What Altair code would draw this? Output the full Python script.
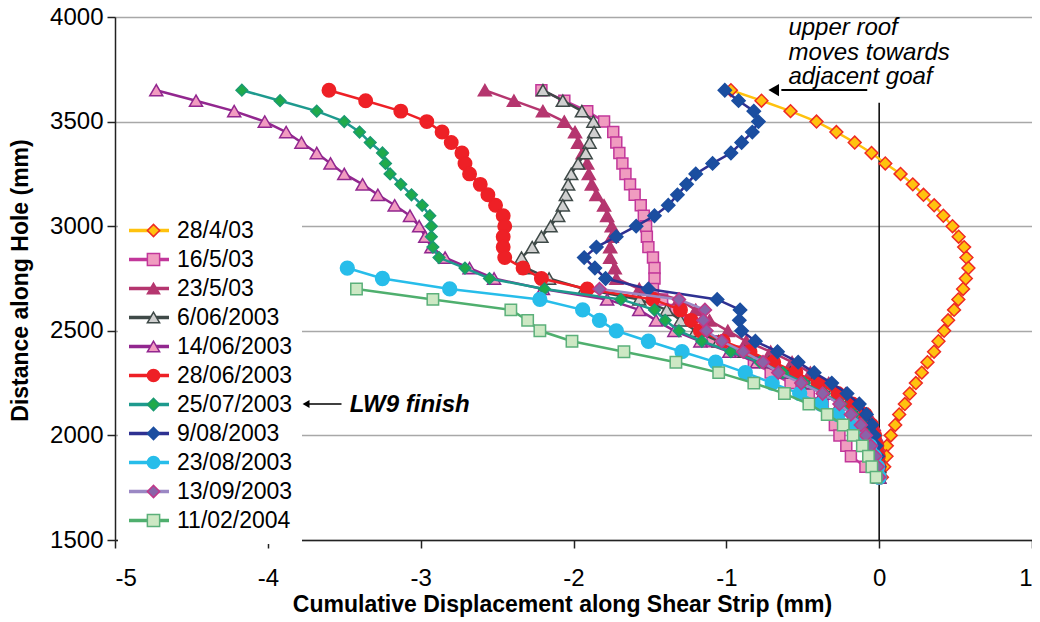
import altair as alt
import pandas as pd

FONT = "Liberation Sans"

DEPTHS = [3650, 3600, 3550, 3500, 3450, 3400, 3350, 3300, 3250, 3200,
          3150, 3100, 3050, 3000, 2950, 2900, 2850, 2800, 2750, 2700,
          2650, 2600, 2550, 2500, 2450, 2400, 2350, 2300, 2250, 2200,
          2150, 2100, 2050, 2000, 1950, 1900, 1850, 1800]

NAMES = ["28/4/03", "16/5/03", "23/5/03", "6/06/2003", "14/06/2003", "28/06/2003",
         "25/07/2003", "9/08/2003", "23/08/2003", "13/09/2003", "11/02/2004"]
# same labels with a trailing space: keeps the line legend apart from the marker legend
NAMES_L = [n + " " for n in NAMES]

X_28_4_03 = [-0.97, -0.77, -0.58, -0.41, -0.28, -0.16, -0.05, 0.04, 0.14, 0.22,
             0.29, 0.36, 0.42, 0.48, 0.52, 0.556, 0.571, 0.584, 0.567, 0.549,
             0.518, 0.49, 0.451, 0.425, 0.388, 0.359, 0.316, 0.279, 0.24, 0.20,
             0.168, 0.131, 0.105, 0.076, 0.05, 0.048, 0.033, 0.018]
X_16_5_03 = [-2.21, -2.06, -1.91, -1.80, -1.74, -1.72, -1.70, -1.68, -1.66, -1.63,
             -1.60, -1.56, -1.54, -1.525, -1.52, -1.51, -1.48, -1.47, -1.47, -1.48,
             -1.42, -1.33, -1.24, -1.16, -1.09, -0.95, -0.82, -0.71, -0.58, -0.46,
             -0.37, -0.32, -0.29, -0.26, -0.215, -0.185, -0.09, 0.0]
X_23_5_03 = [-2.58, -2.39, -2.20, -2.06, -1.99, -1.97, -1.94, -1.91, -1.90, -1.88,
             -1.85, -1.80, -1.78, -1.75, -1.75, -1.76, -1.76, -1.73, -1.72, -1.57,
             -1.31, -1.20, -1.11, -0.99, -0.87, -0.71, -0.57, -0.45, -0.33, -0.22,
             -0.13, -0.07, -0.035, -0.02, -0.01, -0.005, 0.0, 0.0]
X_06_06_2003 = [-2.20, -2.07, -1.945, -1.87, -1.865, -1.895, -1.92, -1.97, -2.015, -2.035,
                -2.05, -2.07, -2.10, -2.15, -2.21, -2.27, -2.34, -2.31, -2.16, -1.93,
                -1.57, -1.39, -1.30, -1.20, -1.05, -0.88, -0.72, -0.58, -0.44, -0.31,
                -0.21, -0.13, -0.08, -0.05, -0.03, -0.01, 0.0, 0.0]
X_14_06_2003 = [-4.73, -4.47, -4.22, -4.02, -3.88, -3.78, -3.68, -3.59, -3.50, -3.38,
                -3.28, -3.17, -3.07, -3.01, -2.97, -2.93, -2.84, -2.68, -2.52, -2.20,
                -1.78, -1.57, -1.46, -1.34, -1.17, -0.98, -0.80, -0.65, -0.50, -0.37,
                -0.26, -0.17, -0.11, -0.07, -0.04, -0.02, -0.01, 0.0]
X_28_06_2003 = [-3.60, -3.36, -3.13, -2.96, -2.86, -2.80, -2.73, -2.71, -2.68, -2.61,
                -2.56, -2.51, -2.46, -2.45, -2.46, -2.46, -2.45, -2.33, -2.21, -1.91,
                -1.48, -1.30, -1.23, -1.17, -1.02, -0.845, -0.69, -0.545, -0.40, -0.27,
                -0.175, -0.09, -0.05, -0.03, -0.015, -0.005, 0.0, 0.0]
X_25_07_2003 = [-4.17, -3.92, -3.68, -3.50, -3.40, -3.33, -3.25, -3.23, -3.20, -3.13,
                -3.06, -2.99, -2.94, -2.93, -2.93, -2.92, -2.88, -2.71, -2.55, -2.19,
                -1.69, -1.47, -1.40, -1.31, -1.16, -0.97, -0.78, -0.63, -0.49, -0.36,
                -0.25, -0.17, -0.11, -0.07, -0.04, -0.02, -0.01, 0.0]
X_09_08_2003 = [-1.01, -0.92, -0.82, -0.79, -0.83, -0.90, -0.97, -1.09, -1.20, -1.26,
                -1.32, -1.38, -1.47, -1.59, -1.72, -1.85, -1.93, -1.86, -1.79, -1.51,
                -1.06, -0.91, -0.915, -0.90, -0.81, -0.665, -0.53, -0.425, -0.31, -0.21,
                -0.13, -0.083, -0.048, -0.033, -0.02, -0.01, 0.0, 0.0]
X_23_08_2003 = [-3.48, -3.25, -2.81, -2.22, -1.94, -1.83, -1.72, -1.51, -1.29, -1.07,
                -0.876, -0.70, -0.52, -0.38, -0.27, -0.17, -0.11, -0.06, -0.03, -0.01, 0.0]
X_13_09_2003 = [-1.83, -1.31, -1.14, -1.15, -1.13, -1.03, -0.89, -0.76, -0.66, -0.51,
                -0.37, -0.26, -0.185, -0.12, -0.087, -0.054, -0.026, -0.01, 0.0]
X_11_02_2004 = [-3.42, -2.92, -2.41, -2.30, -2.22, -2.01, -1.67, -1.33, -1.05, -0.82,
                -0.62, -0.46, -0.34, -0.235, -0.17, -0.11, -0.07, -0.048, -0.02]

SERIES_X = [X_28_4_03, X_16_5_03, X_23_5_03, X_06_06_2003, X_14_06_2003, X_28_06_2003,
            X_25_07_2003, X_09_08_2003, X_23_08_2003, X_13_09_2003, X_11_02_2004]

LINE_COLORS = ["#FFC20E", "#C2379A", "#B5366F", "#3F4A48", "#92278F", "#EE2026",
               "#1E9A8E", "#2E3192", "#27BDEA", "#9B88C4", "#4FAF6E"]
FILL_COLORS = ["#FFC20E", "#F09CC0", "#B5366F", "#D0D0D0", "#F19BC0", "#EE2026",
               "#1FAA4A", "#1B4EA0", "#27BDEA", "#8A63A8", "#CDE8C4"]
EDGE_COLORS = ["#EE2A24", "#C2379A", "#B5366F", "#3F4A48", "#92278F", "#EE2026",
               "#1A9A70", "#1B4EA0", "#27BDEA", "#C0388A", "#5BB07A"]
SHAPES = ["diamond", "square", "triangle-up", "triangle-up", "triangle-up", "circle",
          "diamond", "diamond", "circle", "diamond", "square"]
SIZES = [165, 120, 170, 170, 170, 180, 135, 175, 190, 170, 130]

rows = []
for name, name_l, xs in zip(NAMES, NAMES_L, SERIES_X):
    ds = DEPTHS[len(DEPTHS) - len(xs):]
    for x, d in zip(xs, ds):
        rows.append({"series": name, "series_l": name_l, "disp": x, "depth": d})
df = pd.DataFrame(rows)

x_scale = alt.Scale(domain=[-5, 1], nice=False, zero=False)
y_scale = alt.Scale(domain=[1500, 4000], nice=False, zero=False)

x_axis = alt.Axis(values=[-5, -4, -3, -2, -1, 0, 1], labelExpr="'' + datum.value",
                  grid=False, tickSize=8, labelPadding=18, labelFontSize=24,
                  labelFont=FONT, labelColor="black", titleFontSize=23, titleFont=FONT,
                  titleFontWeight="bold", titleColor="black", titleX=447, titleY=64,
                  titleBaseline="middle", domainColor="#222222", tickColor="#222222",
                  domainWidth=1.5, tickWidth=1.5)
y_axis = alt.Axis(values=[1500, 2000, 2500, 3000, 3500, 4000], format="d",
                  grid=True, gridColor="#A8A8A8", gridWidth=1.3, tickSize=8,
                  labelPadding=4, labelFontSize=24, labelFont=FONT, labelColor="black",
                  titleFontSize=23, titleFont=FONT, titleFontWeight="bold",
                  titleColor="black", titleX=-95, titleY=263, titleBaseline="middle",
                  titleAngle=-90, domainColor="#222222", tickColor="#222222",
                  domainWidth=1.5, tickWidth=1.5)

X_TITLE = "Cumulative Displacement along Shear Strip (mm)"
Y_TITLE = "Distance along Hole (mm)"
X = alt.X("disp:Q", scale=x_scale, axis=x_axis, title=X_TITLE)
Y = alt.Y("depth:Q", scale=y_scale, axis=y_axis, title=Y_TITLE)

LEG_X, LEG_Y = 3, 190
line_legend = alt.Legend(title=None, orient="none", legendX=LEG_X, legendY=LEG_Y,
                         symbolType="stroke", symbolSize=1600, symbolStrokeWidth=3.5,
                         labelFontSize=23, labelFont=FONT, labelColor="black",
                         fillColor="white", padding=9, rowPadding=0, clipHeight=29,
                         labelOffset=6, symbolLimit=0)
mark_legend = alt.Legend(title=None, orient="none", legendX=LEG_X, legendY=LEG_Y,
                         symbolSize=150, symbolStrokeWidth=1.5, symbolOpacity=1,
                         labelFontSize=23, labelFont=FONT, labelExpr="''",
                         padding=9, rowPadding=0, clipHeight=29, symbolOffset=15,
                         labelOffset=6, symbolLimit=0)

line_scale = alt.Scale(domain=NAMES_L, range=LINE_COLORS)
fill_scale = alt.Scale(domain=NAMES, range=FILL_COLORS)
stroke_scale = alt.Scale(domain=NAMES, range=EDGE_COLORS)
shape_scale = alt.Scale(domain=NAMES, range=SHAPES)

# zero reference line
zero_df = pd.DataFrame({"disp": [0.0], "depth": [1500], "depth2": [3590]})
zero_rule = alt.Chart(zero_df).mark_rule(color="black", strokeWidth=1.5).encode(
    x=X, y=Y, y2="depth2:Q")

layers = [zero_rule]
for i, name in enumerate(NAMES):
    base = alt.Chart(df).transform_filter(alt.datum.series == name)
    ln = base.mark_line(strokeWidth=2.5).encode(
        x=X, y=Y, order=alt.Order("depth:Q", sort="descending"),
        color=alt.Color("series_l:N", scale=line_scale, legend=line_legend))
    pt = base.mark_point(filled=True, size=SIZES[i], strokeWidth=1.5, opacity=1).encode(
        x=X, y=Y,
        shape=alt.Shape("series:N", scale=shape_scale, legend=mark_legend),
        fill=alt.Fill("series:N", scale=fill_scale, legend=mark_legend),
        stroke=alt.Stroke("series:N", scale=stroke_scale, legend=mark_legend))
    layers += [ln, pt]

# annotations
ANN_LINES = ["upper roof", "moves towards", "adjacent goaf"]
ann_df = pd.DataFrame({"disp": [-0.594] * 3, "depth": [3914, 3794, 3680], "label": ANN_LINES})
ann_text = alt.Chart(ann_df).mark_text(align="left", baseline="alphabetic", fontSize=24,
                                       fontStyle="italic", font=FONT, color="black").encode(
    x=X, y=Y, text="label:N")

arrow1_df = pd.DataFrame({"disp": [-0.64], "disp2": [-0.078], "depth": [3651]})
arrow1 = alt.Chart(arrow1_df).mark_rule(color="black", strokeWidth=2).encode(
    x=X, x2="disp2:Q", y=Y)
head1_df = pd.DataFrame({"disp": [-0.69], "depth": [3651]})
head1 = alt.Chart(head1_df).mark_point(shape="triangle-left", filled=True, color="black",
                                       size=150, opacity=1).encode(x=X, y=Y)

lw9_df = pd.DataFrame({"disp": [-3.464], "depth": [2113], "label": ["LW9 finish"]})
lw9_text = alt.Chart(lw9_df).mark_text(align="left", baseline="alphabetic", fontSize=24,
                                       fontStyle="italic", fontWeight="bold", font=FONT,
                                       color="black").encode(x=X, y=Y, text="label:N")
arrow2_df = pd.DataFrame({"disp": [-3.76], "disp2": [-3.518], "depth": [2150]})
arrow2 = alt.Chart(arrow2_df).mark_rule(color="black", strokeWidth=1.5).encode(
    x=X, x2="disp2:Q", y=Y)
head2_df = pd.DataFrame({"disp": [-3.75], "depth": [2150]})
head2 = alt.Chart(head2_df).mark_point(shape="triangle-left", filled=True, color="black",
                                       size=64, opacity=1).encode(x=X, y=Y)

layers += [ann_text, arrow1, head1, lw9_text, arrow2, head2]

chart = alt.layer(*layers).properties(
    width=917, height=523,
    autosize=alt.AutoSizeParams(type="none"),
    padding={"left": 107, "top": 9, "right": 0, "bottom": 80},
).configure_view(stroke="#222222", strokeWidth=1.5).configure(background="white")

chart.save("out.html", embed_options={"renderer": "svg", "actions": False})
